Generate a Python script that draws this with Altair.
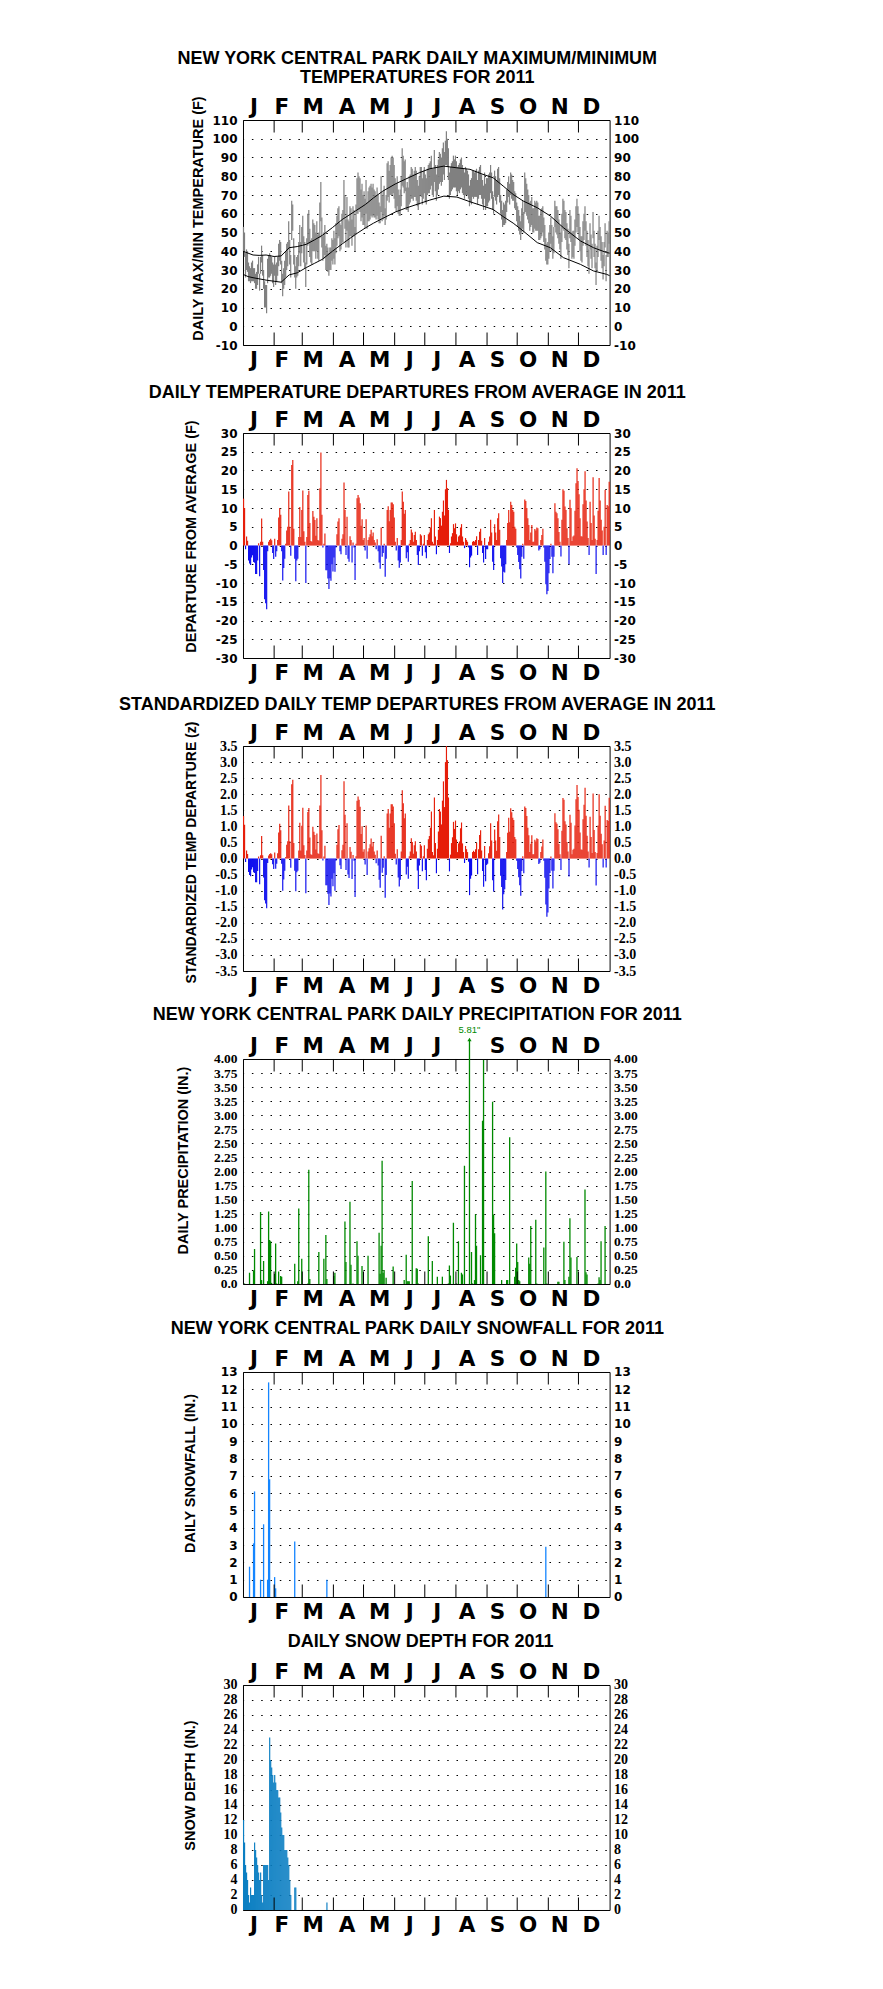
import altair as alt
import pandas as pd

# ---------------- data ----------------
MONTH_LETTERS = ["J", "F", "M", "A", "M", "J", "J", "A", "S", "O", "N", "D"]
MONTH_STARTS = [0, 31, 59, 90, 120, 151, 181, 212, 243, 273, 304, 334]
MONTH_LABEL_DAYS = [11, 38.8, 70, 103.6, 136, 166, 193.5, 223, 253.3, 283.9, 315.4, 347]

NORMAL_DAYS = [0, 5, 10, 16, 23, 31, 38, 46, 54, 63, 71, 79, 89, 99, 112, 122, 130, 139, 152, 162,
               176, 186, 200, 213, 226, 239, 249, 259, 269, 279, 293, 306, 319, 336, 349, 362, 365]
NORMAL_HIGH = [40, 39, 38, 37.8, 38, 37.2, 37.5, 41.9, 42.5, 43.7, 46, 48.5, 52.6, 57, 61.5, 65, 68.5, 72, 76, 78.5,
               82, 84, 85.4, 84.5, 83.7, 81, 79.2, 74.8, 70.3, 66.8, 63.2, 58.8, 52.6, 45.5, 41.9, 39.3, 39]
NORMAL_LOW = [27.7, 26.5, 25.9, 25.3, 24.6, 24, 23.5, 27.4, 28.5, 31.3, 33.5, 35.7, 40, 44, 49, 52.5, 55, 57.5, 61, 63,
              65.5, 67.3, 69.4, 68.9, 66.4, 64.1, 62.3, 58.5, 55, 50.8, 44.6, 41.9, 36.6, 33, 29.5, 27.7, 27]

TMAX = [
    53, 50, 39, 41, 40, 34, 32, 31, 34, 35, 31, 31, 28, 29, 33, 37, 28, 37, 43, 38, 30, 24, 22, 22, 36, 38, 39, 38, 37, 34, 33,
    37, 33, 34, 37, 44, 46, 45, 35, 28, 31, 35, 40, 44, 45, 56, 46, 38, 67, 65, 47, 38, 32, 37, 38, 45, 54, 45, 53,
    59, 48, 45, 34, 47, 60, 62, 52, 46, 47, 57, 55, 54, 50, 56, 49, 50, 66, 77, 58, 48, 50, 54, 43, 44, 42, 39, 42, 42, 47, 46,
    51, 47, 55, 59, 63, 64, 55, 54, 60, 62, 78, 70, 57, 69, 57, 56, 64, 63, 57, 64, 62, 53, 65, 79, 82, 80, 79, 73, 76, 70,
    72, 68, 78, 66, 72, 74, 75, 76, 74, 76, 73, 72, 70, 74, 70, 66, 64, 80, 70, 72, 75, 63, 70, 87, 88, 83, 86, 90, 91, 90, 86,
    79, 76, 80, 73, 70, 73, 80, 95, 91, 88, 89, 74, 77, 74, 80, 81, 85, 84, 81, 83, 85, 83, 78, 75, 80, 85, 85, 79, 83, 85,
    81, 79, 84, 86, 87, 88, 91, 84, 84, 94, 86, 81, 86, 89, 93, 92, 90, 95, 98, 93, 99, 104, 100, 95, 82, 85, 87, 88, 91, 89, 91,
    88, 85, 86, 87, 89, 90, 86, 84, 82, 85, 84, 83, 81, 75, 78, 79, 83, 83, 82, 83, 84, 78, 83, 85, 86, 81, 78, 75, 82, 76, 79,
    79, 81, 82, 86, 82, 72, 69, 83, 80, 78, 84, 85, 79, 70, 67, 62, 66, 65, 67, 73, 77, 80, 76, 82, 81, 78, 77, 72, 71, 66,
    64, 62, 59, 56, 63, 67, 61, 82, 79, 76, 73, 70, 66, 67, 69, 63, 63, 67, 66, 67, 66, 59, 59, 62, 63, 64, 58, 54, 47, 44, 45,
    50, 54, 58, 54, 48, 53, 67, 64, 64, 62, 57, 54, 50, 60, 68, 67, 62, 61, 55, 52, 44, 62, 59, 50, 51, 51, 57, 64, 68, 64,
    60, 53, 48, 48, 56, 60, 64, 56, 51, 46, 41, 55, 49, 44, 61, 51, 44, 34, 43, 51, 59, 53, 48, 45, 38, 45, 55, 38, 51, 50, 56,
]
TMIN = [
    40, 37, 26, 30, 29, 24, 24, 23, 24, 24, 24, 23, 20, 20, 22, 28, 19, 28, 34, 27, 20, 10, 10, 7, 23, 26, 26, 27, 28, 23, 21,
    27, 22, 24, 27, 32, 35, 33, 23, 16, 20, 22, 26, 30, 32, 41, 33, 26, 46, 51, 33, 26, 20, 26, 27, 32, 39, 32, 39,
    44, 34, 31, 21, 33, 43, 44, 37, 34, 33, 40, 40, 40, 36, 40, 36, 35, 47, 56, 42, 35, 36, 38, 30, 30, 29, 27, 30, 30, 35, 33,
    36, 33, 39, 43, 47, 48, 40, 41, 44, 45, 58, 52, 42, 51, 42, 42, 48, 48, 43, 48, 48, 40, 49, 60, 60, 62, 61, 56, 58, 54,
    54, 52, 60, 52, 56, 56, 57, 59, 58, 59, 58, 58, 57, 59, 57, 55, 55, 61, 56, 57, 59, 54, 57, 67, 69, 66, 70, 70, 70, 71, 68,
    63, 61, 64, 60, 59, 59, 64, 75, 74, 71, 72, 62, 62, 61, 65, 66, 68, 68, 67, 69, 69, 67, 64, 62, 65, 70, 69, 65, 68, 71,
    66, 65, 70, 71, 71, 73, 75, 70, 69, 77, 72, 67, 70, 73, 76, 77, 75, 77, 81, 78, 86, 86, 85, 78, 68, 70, 72, 73, 74, 74, 74,
    72, 70, 72, 71, 73, 74, 71, 70, 68, 70, 70, 70, 68, 64, 66, 65, 69, 68, 69, 69, 69, 65, 68, 70, 70, 68, 65, 62, 68, 62, 64,
    64, 66, 67, 71, 68, 62, 60, 69, 67, 65, 69, 70, 66, 60, 57, 53, 54, 54, 55, 61, 66, 69, 65, 70, 68, 67, 67, 63, 62, 56,
    53, 51, 49, 46, 50, 52, 50, 60, 61, 59, 57, 55, 51, 53, 54, 50, 50, 52, 51, 51, 51, 46, 46, 47, 48, 50, 45, 41, 35, 33, 33,
    36, 40, 44, 40, 36, 39, 53, 50, 49, 47, 44, 41, 36, 45, 52, 51, 47, 46, 41, 38, 31, 47, 45, 36, 37, 36, 43, 50, 53, 50,
    46, 40, 35, 34, 43, 46, 51, 43, 37, 32, 28, 41, 36, 31, 47, 37, 31, 22, 30, 37, 46, 40, 35, 31, 25, 32, 42, 24, 37, 37, 44,
]
DEP = [
    12.5, 10, -1, 2.4, 1.3, -4, -4.8, -5.2, -3.2, -2.6, -4.4, -4.6, -7.6, -7.6, -4, 0.6, -8.2, 1, 7.2, 1, -6.5, -14.3, -15.4, -17, -1.5, 1, 1.5, 1.8, 1.4, -2, -3.6,
    1.8, -3, -1.5, 1.5, 7.5, 10, 8.2, -1.5, -9.3, -6, -3.5, 0.5, 4, 5, 14.4, 5, -2.7, 21.5, 22.8, 4.5, -3.5, -9.5, -4, -3.5, 2.3, 10.3, 2.3, 9.5,
    14.7, 3.8, 1, -10, 2.3, 13.5, 14.6, 6, 1.2, 1, 9.2, 7.7, 6.8, 2.6, 7.3, 1.5, 1.3, 15.3, 24.8, 8.2, -0.5, 0.5, 3.2, -6.6, -6.6, -8.8, -11.6, -8.7, -9.4, -5, -6.9,
    -3.2, -7, -0.5, 3, 6.4, 7.3, -1.5, -2.3, 1.8, 3, 16.8, 9.5, -2.5, 7.7, -3.5, -4.3, 2.5, 1.5, -4.5, 0.8, -0.5, -9.2, 0.5, 12.6, 13.5, 12.8, 11.3, 5.3, 7, 1.5,
    2, -1.3, 7, -3.5, 1.5, 2.2, 3, 4.2, 2.5, 3.5, 1.5, 0.8, -1, 1.7, -1.5, -4.5, -6.2, 4.8, -3, -2, 0.5, -8.3, -3.5, 9.5, 10.5, 6.5, 9.5, 11.5, 11.5, 11, 7.5,
    1, -1.3, 2, -4, -5.9, -4.5, 1.5, 14.4, 11.7, 8.5, 9.5, -3.4, -1.8, -4.3, 0.5, 1.5, 4.3, 3.5, 1, 2.8, 3.7, 1.5, -2.5, -5.2, -1.5, 3, 2.7, -2.7, 0.5, 2.8,
    -1.8, -3.4, 1.5, 3, 3.5, 4.8, 7.3, 1, 0.5, 9.5, 2.4, -2.3, 1.5, 4.2, 7.7, 7.3, 5.3, 9, 12, 8, 15, 17.5, 15.3, 9.5, -2, 0.6, 2.4, 3.3, 5.7, 4.6, 5.9,
    3, 1, 2.4, 2.7, 4.8, 5.7, 2.4, 1, -0.7, 2, 1.5, 1, -0.5, -5.8, -3.2, -2.7, 1, 1.2, 1, 1.5, 2.5, -2.5, 1.5, 3.7, 4.5, 1.3, -2, -4.5, 2, -3.6, -1,
    -1, 1, 2.4, 6.9, 3.5, -4.3, -6.5, 5.7, 3.5, 1.5, 7.3, 8.6, 4.2, -3.4, -5.6, -10, -7, -7.2, -5, 1.5, 6, 9.5, 6.2, 11.7, 10.8, 9.5, 9, 5, 4.5, -0.5,
    -2.5, -4.4, -6.3, -8.8, -3, 0.5, -3.5, 12.3, 11.9, 10, 7.3, 5.5, 1.5, 3.5, 5.5, 1, 1, 4.4, 4, 4.8, 4.6, -1.3, -1, 1.5, 2.8, 4.5, -0.5, -4.3, -10.3, -13, -12.1,
    -7.4, -3.6, 0.5, -3, -7.4, -3, 11.3, 9, 8.6, 7.3, 3.6, 1, -2.9, 6.9, 15, 14.6, 10.4, 9.5, 4.6, 2, -5, 12.2, 10, 1.2, 2.4, 2.7, 9.3, 16.6, 20.6, 17.2,
    13.7, 7.3, 2.5, 2.4, 11, 15, 19.8, 12, 6.4, 2, -2.5, 11.7, 6, 1.5, 18.2, 8, 1.8, -7.6, 1.5, 9.3, 18, 12, 6.9, 4, -2.5, 5, 14.8, -2.5, 10.8, 10.5, 17,
]
ZDEP = [
    1.32, 1.05, -0.11, 0.25, 0.14, -0.42, -0.51, -0.55, -0.34, -0.27, -0.43, -0.45, -0.74, -0.74, -0.39, 0.06, -0.8, 0.1, 0.7, 0.1, -0.59, -1.3, -1.4, -1.55, -0.14, 0.09, 0.14, 0.16, 0.13, -0.18, -0.33,
    0.19, -0.32, -0.16, 0.16, 0.81, 1.08, 0.88, -0.16, -1.0, -0.65, -0.38, 0.05, 0.43, 0.54, 1.65, 0.54, -0.29, 2.31, 2.45, 0.48, -0.38, -1.02, -0.43, -0.38, 0.25, 1.11, 0.25, 1.02,
    1.58, 0.41, 0.11, -1.08, 0.25, 1.45, 1.57, 0.65, 0.13, 0.11, 0.99, 0.83, 0.73, 0.28, 0.78, 0.16, 0.14, 1.65, 2.6, 0.88, -0.06, 0.06, 0.4, -0.83, -0.83, -1.1, -1.45, -1.09, -1.18, -0.63, -0.86,
    -0.46, -1.0, -0.07, 0.43, 0.91, 1.04, -0.21, -0.33, 0.26, 0.43, 2.4, 1.36, -0.36, 1.1, -0.5, -0.61, 0.36, 0.21, -0.64, 0.11, -0.07, -1.2, 0.07, 1.8, 1.93, 1.83, 1.61, 0.76, 1.0, 0.21,
    0.29, -0.19, 1.03, -0.51, 0.22, 0.32, 0.44, 0.62, 0.37, 0.51, 0.22, 0.12, -0.15, 0.25, -0.22, -0.66, -0.91, 0.71, -0.44, -0.29, 0.07, -1.22, -0.51, 1.4, 1.54, 0.96, 1.4, 1.69, 1.69, 1.62, 1.1,
    0.15, -0.19, 0.29, -0.59, -0.87, -0.66, 0.22, 2.12, 1.72, 1.25, 1.4, -0.5, -0.26, -0.63, 0.07, 0.22, 0.63, 0.51, 0.15, 0.41, 0.54, 0.22, -0.37, -0.95, -0.22, 0.44, 0.4, -0.4, 0.07, 0.41,
    -0.36, -0.68, 0.3, 0.6, 0.7, 0.96, 1.46, 0.2, 0.1, 1.9, 0.48, -0.46, 0.3, 0.84, 1.54, 1.46, 1.06, 1.8, 2.4, 1.6, 3.0, 3.5, 3.06, 1.9, -0.4, 0.12, 0.48, 0.66, 1.14, 0.92, 1.18,
    0.59, 0.2, 0.47, 0.53, 0.94, 1.12, 0.47, 0.2, -0.14, 0.39, 0.29, 0.2, -0.1, -1.14, -0.63, -0.53, 0.2, 0.24, 0.2, 0.29, 0.49, -0.49, 0.29, 0.73, 0.88, 0.25, -0.39, -0.88, 0.39, -0.71, -0.2,
    -0.16, 0.16, 0.38, 1.1, 0.56, -0.68, -1.03, 0.9, 0.56, 0.24, 1.16, 1.37, 0.67, -0.54, -0.89, -1.59, -1.11, -0.96, -0.67, 0.2, 0.8, 1.27, 0.83, 1.56, 1.44, 1.27, 1.2, 0.67, 0.6, -0.07,
    -0.33, -0.58, -0.83, -1.16, -0.39, 0.07, -0.46, 1.62, 1.57, 1.32, 0.96, 0.72, 0.2, 0.46, 0.72, 0.13, 0.13, 0.58, 0.53, 0.63, 0.61, -0.17, -0.13, 0.2, 0.37, 0.59, -0.07, -0.6, -1.43, -1.81, -1.68,
    -0.93, -0.45, 0.06, -0.38, -0.93, -0.38, 1.41, 1.13, 1.08, 0.91, 0.45, 0.13, -0.36, 0.86, 1.88, 1.83, 1.16, 1.06, 0.51, 0.22, -0.56, 1.36, 1.11, 0.13, 0.27, 0.3, 1.03, 1.84, 2.29, 1.91,
    1.52, 0.81, 0.28, 0.27, 1.22, 1.67, 2.2, 1.33, 0.71, 0.22, -0.28, 1.3, 0.67, 0.17, 2.02, 0.89, 0.2, -0.84, 0.17, 1.03, 2.0, 1.33, 0.77, 0.44, -0.28, 0.56, 1.64, -0.28, 1.2, 1.17, 1.89,
]

PRCP_DAYS = [1, 6, 10, 11, 17, 18, 20, 24, 25, 26, 27, 28, 31, 32, 33, 35, 37, 38, 51, 54, 55, 58, 64, 65, 66,
             75, 80, 82, 83, 90, 91, 101, 102, 106, 107, 109, 113, 114, 118, 124, 135, 136, 137, 138, 139, 140,
             142, 149, 160, 162, 163, 164, 165, 168, 172, 173, 174, 184, 188, 193, 198, 204, 205, 206, 209, 212,
             214, 217, 218, 220, 225, 227, 228, 230, 231, 232, 236, 238, 239, 248, 249, 250, 257, 262, 263, 265,
             270, 271, 272, 273, 274, 275, 284, 285, 286, 291, 292, 299, 301, 302, 313, 314, 319, 320, 324, 325,
             326, 332, 340, 341, 342, 353, 354, 355, 356, 360]
PRCP_IN = [0.01, 0.2, 0.24, 0.62, 1.28, 0.07, 0.41, 0.05, 1.29, 0.78, 0.76, 0.02, 0.18, 0.72, 0.01, 0.22, 0.14, 0.13, 0.36, 0.05, 1.34, 0.45, 0.01, 2.03, 0.09,
           0.57, 0.45, 0.87, 0.09, 0.14, 0.2, 1.11, 0.39, 1.46, 0.34, 0.01, 0.76, 0.5, 0.32, 0.5, 0.91, 0.18, 0.68, 2.19, 0.2, 0.25,
           0.11, 0.31, 0.07, 0.52, 0.05, 0.05, 0.05, 1.83, 0.28, 0.27, 0.01, 0.85, 0.41, 0.13, 0.13, 0.01, 0.33, 0.15, 1.09, 0.01,
           0.76, 0.2, 0.17, 2.1, 5.81, 0.57, 0.01, 0.07, 1.24, 0.68, 0.51, 2.9, 3.98, 3.24, 1.23, 0.9, 0.07, 0.07, 0.07, 2.61,
           0.13, 0.29, 0.72, 0.39, 0.07, 0.05, 0.47, 0.36, 1.03, 1.14, 0.01, 0.65, 2.0, 0.01, 0.04, 0.04, 0.75, 0.07, 0.13, 1.17,
           0.47, 0.48, 1.68, 0.21, 0.17, 0.01, 0.12, 0.07, 0.76, 1.03]

SNOW_DAYS = [6, 10, 11, 17, 20, 24, 25, 26, 31, 32, 51, 83, 301]
SNOW_IN = [1.75, 3.1, 6.1, 1.0, 4.2, 1.0, 12.4, 6.8, 1.15, 0.5, 3.2, 1.0, 2.9]

DEPTH_DAYS = list(range(0, 53)) + [83]
DEPTH_IN = [12, 9, 6, 5, 4, 2, 1, 3, 2, 2, 2, 9, 8, 7, 6, 5, 4, 5, 2, 1, 6, 6, 6, 6, 6, 4,
            23, 20, 19, 18, 17, 18, 17, 16, 16, 15, 15, 13, 11, 10, 10, 8, 8, 8, 7, 6, 4, 2, 0, 0, 0, 3, 3, 1]

assert len(TMAX) == 365 and len(TMIN) == 365 and len(DEP) == 365 and len(ZDEP) == 365
assert len(PRCP_DAYS) == len(PRCP_IN) and len(SNOW_DAYS) == len(SNOW_IN) and len(DEPTH_DAYS) == len(DEPTH_IN)

# ---------------- styling ----------------
W = 366.6
H = 225.0
SANS = "Liberation Sans"
WIDE = "DejaVu Sans"
SERIF = "Liberation Serif"
GRAY = "#808080"
RED = "#E61E0A"
BLUE = "#0A0AEE"
GREEN = "#008A00"
SNOWBLUE = "#1485FF"
DEPTHBLUE = "#0A7EC2"

XS = alt.Scale(domain=[0, 365], nice=False, zero=False)


def xenc(field):
    return alt.X(f"{field}:Q", scale=XS, axis=None)


daily = pd.DataFrame({"day": list(range(365)), "tmax": TMAX, "tmin": TMIN, "dep": DEP, "z": ZDEP})
normals = pd.DataFrame({"day": NORMAL_DAYS, "hi": NORMAL_HIGH, "lo": NORMAL_LOW})
months = pd.DataFrame({"m": MONTH_LETTERS, "pos": MONTH_LABEL_DAYS})
bounds = pd.DataFrame({"b": MONTH_STARTS[1:]})
prcp = pd.DataFrame({"day": PRCP_DAYS, "p": PRCP_IN})
snow = pd.DataFrame({"day": SNOW_DAYS, "s": SNOW_IN})
depth = pd.DataFrame({"day": DEPTH_DAYS, "d": DEPTH_IN})

MINUS = "\u2212"
EXPR_INT = f"replace(format(datum.value, 'd'), '{MINUS}', '-')"
EXPR_1F = f"replace(format(datum.value, '.1f'), '{MINUS}', '-')"
EXPR_PR = "datum.value == 0 ? '0.0' : format(datum.value, '.2f')"

MONTH_SIZE = 21.5


def frame(titles, top_months=None):
    layers = []
    for text, ty, dx in titles:
        layers.append(
            alt.Chart(pd.DataFrame({"t": [text]}))
            .mark_text(font=SANS, fontSize=18, fontWeight="bold", align="center", baseline="middle", color="black")
            .encode(x=alt.value(W / 2 + dx), y=alt.value(ty), text="t:N")
        )
    tm = months if top_months is None else top_months
    layers.append(
        alt.Chart(tm)
        .mark_text(font=WIDE, fontSize=MONTH_SIZE, fontWeight="bold", align="center", baseline="alphabetic", color="black")
        .encode(x=xenc("pos"), y=alt.value(-6.3), text="m:N")
    )
    layers.append(
        alt.Chart(months)
        .mark_text(font=WIDE, fontSize=MONTH_SIZE, fontWeight="bold", align="center", baseline="top", color="black")
        .encode(x=xenc("pos"), y=alt.value(H + 5.0), text="m:N")
    )
    return layers


def ticks_layers():
    return [
        alt.Chart(bounds).mark_rule(color="black", strokeWidth=1).encode(
            x=xenc("b"), y=alt.value(0), y2=alt.value(12.5)),
        alt.Chart(bounds).mark_rule(color="black", strokeWidth=1).encode(
            x=xenc("b"), y=alt.value(H - 12.5), y2=alt.value(H)),
    ]


def axes(title, tx, ty, values, lfont, lsize, lexpr, tsize=14.5):
    common = dict(values=values, domain=False, ticks=False, tickSize=0, labelFont=lfont,
                  labelFontSize=lsize, labelFontWeight="bold", labelColor="black", labelExpr=lexpr,
                  labelBaseline="middle", labelOverlap=False, labelFlush=False)
    left = alt.Axis(orient="left", grid=True, gridColor="black", gridDash=[1.5, 7.8], gridDashOffset=0.9,
                    gridWidth=1.2, gridOpacity=1, labelPadding=6, title=title, titleAngle=270,
                    titleX=tx, titleY=ty, titleAlign="center", titleBaseline="middle", titleFont=SANS,
                    titleFontSize=tsize, titleFontWeight="bold", titleColor="black", **common)
    right = alt.Axis(orient="right", grid=False, labelPadding=4, labelAlign="left", title="", **common)
    return left, right


def right_carrier(values, yscale, right_axis):
    return alt.Chart(pd.DataFrame({"t": values})).mark_point(opacity=0).encode(
        x=alt.value(0), y=alt.Y("t:Q", scale=yscale, axis=right_axis))


def panel(layers):
    return alt.layer(*layers).resolve_axis(y="independent").properties(width=W, height=H)


# ---- panel 1: max/min temperatures ----
V1 = list(range(-10, 111, 10))
YS1 = alt.Scale(domain=[-10, 110], nice=False, zero=False)
L1, R1 = axes("DAILY MAX/MIN TEMPERATURE (F)", -44, 98, V1, WIDE, 12, EXPR_INT)
anchor = alt.Chart(pd.DataFrame({"a": [0]})).mark_rule(color="white", strokeWidth=1).encode(
    x=alt.value(-233.2), y=alt.value(-110.7), y2=alt.value(-100))
p1 = panel(
    [anchor]
    + frame([("NEW YORK CENTRAL PARK DAILY MAXIMUM/MINIMUM", -60.7, -9), ("TEMPERATURES FOR 2011", -42.3, -9)])
    + [
        alt.Chart(daily).transform_calculate(xc="datum.day + 0.5").mark_rule(color=GRAY, strokeWidth=1.2).encode(
            x=xenc("xc"), y=alt.Y("tmin:Q", scale=YS1, axis=L1), y2="tmax:Q"),
        alt.Chart(normals).mark_line(color="black", strokeWidth=1).encode(
            x=xenc("day"), y=alt.Y("hi:Q", scale=YS1, axis=None)),
        alt.Chart(normals).mark_line(color="black", strokeWidth=1).encode(
            x=xenc("day"), y=alt.Y("lo:Q", scale=YS1, axis=None)),
        right_carrier(V1, YS1, R1),
    ]
    + ticks_layers()
)

# ---- panel 2: departures ----
V2 = list(range(-30, 31, 5))
YS2 = alt.Scale(domain=[-30, 30], nice=False, zero=False)
L2, R2 = axes("DEPARTURE FROM AVERAGE (F)", -51.7, 103, V2, WIDE, 12, EXPR_INT)
p2 = panel(
    frame([("DAILY TEMPERATURE DEPARTURES FROM AVERAGE IN 2011", -40, -9)])
    + [
        alt.Chart(daily).transform_calculate(xe="datum.day + 1.15").mark_bar().encode(
            x=xenc("day"), x2="xe:Q", y=alt.Y("dep:Q", scale=YS2, axis=L2), y2=alt.datum(0),
            color=alt.condition("datum.dep >= 0", alt.value(RED), alt.value(BLUE))),
        right_carrier(V2, YS2, R2),
    ]
    + ticks_layers()
)

# ---- panel 3: standardized departures ----
V3 = [x / 2 for x in range(-7, 8)]
YS3 = alt.Scale(domain=[-3.5, 3.5], nice=False, zero=False)
L3, R3 = axes("STANDARDIZED TEMP DEPARTURE (z)", -51.7, 106, V3, SERIF, 14, EXPR_1F, tsize=14)
p3 = panel(
    frame([("STANDARDIZED DAILY TEMP DEPARTURES FROM AVERAGE IN 2011", -40.7, -9)])
    + [
        alt.Chart(daily).transform_calculate(xe="datum.day + 1.15").mark_bar().encode(
            x=xenc("day"), x2="xe:Q", y=alt.Y("z:Q", scale=YS3, axis=L3), y2=alt.datum(0),
            color=alt.condition("datum.z >= 0", alt.value(RED), alt.value(BLUE))),
        right_carrier(V3, YS3, R3),
    ]
    + ticks_layers()
)

# ---- panel 4: precipitation ----
V4 = [x / 4 for x in range(0, 17)]
YS4 = alt.Scale(domain=[0, 4], nice=False, zero=False)
L4, R4 = axes("DAILY PRECIPITATION (IN.)", -59, 101, V4, SERIF, 13.5, EXPR_PR)
big = alt.Chart(prcp).transform_filter("datum.p > 4").transform_calculate(
    xc="datum.day + 0.5", lbl="format(datum.p, '.2f') + '\"'")
p4 = panel(
    frame([("NEW YORK CENTRAL PARK DAILY PRECIPITATION FOR 2011", -44, -9)],
          top_months=months[months.index != 7])
    + [
        alt.Chart(prcp).transform_calculate(xc="datum.day + 0.5").mark_rule(
            color=GREEN, strokeWidth=1.3, clip=True).encode(
            x=xenc("xc"), y=alt.Y("p:Q", scale=YS4, axis=L4), y2=alt.datum(0)),
        big.mark_rule(color=GREEN, strokeWidth=1.3).encode(x=xenc("xc"), y=alt.value(0), y2=alt.value(-19)),
        big.mark_point(shape="triangle-up", filled=True, color=GREEN, size=18, opacity=1).encode(
            x=xenc("xc"), y=alt.value(-19.5)),
        big.mark_text(color=GREEN, font=SANS, fontSize=9.5, baseline="middle", align="center").encode(
            x=xenc("xc"), y=alt.value(-28.5), text="lbl:N"),
        right_carrier(V4, YS4, R4),
    ]
    + ticks_layers()
)

# ---- panel 5: snowfall ----
V5 = list(range(0, 14))
YS5 = alt.Scale(domain=[0, 13], nice=False, zero=False)
L5, R5 = axes("DAILY SNOWFALL (IN.)", -52.7, 101, V5, WIDE, 12, EXPR_INT)
p5 = panel(
    frame([("NEW YORK CENTRAL PARK DAILY SNOWFALL FOR 2011", -43, -9)])
    + [
        alt.Chart(snow).transform_calculate(xc="datum.day + 0.5").mark_rule(
            color=SNOWBLUE, strokeWidth=1.3).encode(
            x=xenc("xc"), y=alt.Y("s:Q", scale=YS5, axis=L5), y2=alt.datum(0)),
        right_carrier(V5, YS5, R5),
    ]
    + ticks_layers()
)

# ---- panel 6: snow depth ----
V6 = list(range(0, 31, 2))
YS6 = alt.Scale(domain=[0, 30], nice=False, zero=False)
L6, R6 = axes("SNOW DEPTH (IN.)", -52.7, 100, V6, SERIF, 14, EXPR_INT)
p6 = panel(
    frame([("DAILY SNOW DEPTH FOR 2011", -43, -5.6)])
    + [
        alt.Chart(depth).transform_calculate(xe="datum.day + 1.15").mark_bar(color=DEPTHBLUE).encode(
            x=xenc("day"), x2="xe:Q", y=alt.Y("d:Q", scale=YS6, axis=L6), y2=alt.datum(0)),
        right_carrier(V6, YS6, R6),
    ]
    + ticks_layers()
)

chart = (
    alt.vconcat(p1, p2, p3, p4, p5, p6, spacing=88, bounds="flush")
    .properties(padding={"left": 0, "top": 0, "right": 5, "bottom": 5}, background="white")
    .configure_view(stroke="black", strokeWidth=1)
)

chart.save("out.html", embed_options={"renderer": "svg", "actions": False})
